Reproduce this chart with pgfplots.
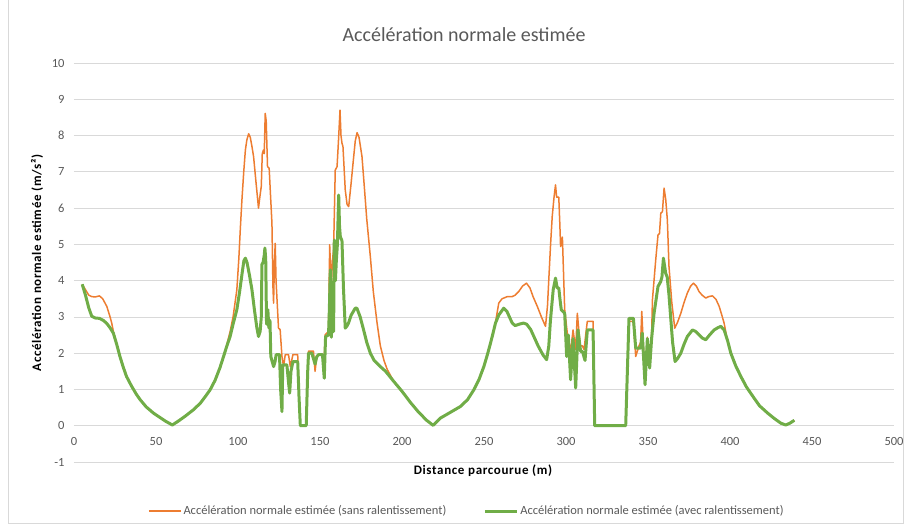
\documentclass[border=0pt]{standalone}
\usepackage{pgfplots}
\pgfplotsset{compat=1.18}
\usepackage{fontspec}
\setmainfont{Carlito}
\definecolor{orangeS}{HTML}{ED7D31}
\definecolor{greenA}{HTML}{70AD47}
\definecolor{gridgray}{HTML}{D9D9D9}
\definecolor{labelgray}{HTML}{595959}
\begin{document}
\begin{tikzpicture}[x=1pt,y=1pt]
\useasboundingbox (-74,-63) rectangle (833,462);
\draw[gridgray, line width=0.8pt] (-66,462) -- (-66,-61) -- (829,-61) -- (829,462);
\begin{axis}[
  at={(0,0)}, anchor=south west, scale only axis,
  width=820pt, height=399pt,
  xmin=0, xmax=500, ymin=-1, ymax=10,
  xtick={0,50,...,500}, ytick={-1,0,...,10},
  ymajorgrids, grid style={draw=gridgray, line width=0.7pt},
  axis line style={draw=none}, major tick length=0pt,
  tick label style={font=\fontsize{12.5}{14}\selectfont, text=labelgray},
  /pgf/number format/assume math mode=true,
  xticklabel style={yshift=28pt},
  yticklabel style={xshift=-6pt},
  legend columns=2,
  legend style={at={(0.479,-0.123)}, anchor=center, draw=none, fill=none,
    font=\fontsize{12.5}{14}\selectfont, text=labelgray,
    /tikz/every even column/.append style={column sep=35pt}},
  legend image code/.code={\draw[#1] (0pt,0pt) -- (32pt,0pt);},
]
\addplot[orangeS, line width=1.5pt, line join=round] coordinates {
(5,3.9)(7,3.75)(9,3.6)(10.8,3.56)(13,3.55)(15.5,3.58)(17.5,3.5)(20,3.29)(22,3.0)(23,2.83)(24,2.6)
(26,2.25)(28,1.91)(30,1.62)(32,1.36)(35,1.1)(38,0.87)(40.3,0.72)(44,0.52)(48.4,0.35)(52,0.24)(56,0.12)(60,0.02)
(64,0.14)(68,0.27)(72.8,0.44)(77,0.62)(80,0.8)(83,0.99)(86,1.25)(89,1.6)(91.2,1.91)(93,2.2)(95.2,2.6)(97,3.0)
(99.3,3.75)(100.5,4.6)(101.5,5.5)(102.4,6.23)(103.5,7.0)(104.5,7.6)(105.4,7.88)(106.5,8.05)(107.5,7.95)(108.5,7.7)
(109.5,7.42)(111,6.7)(112.5,6.0)(113.3,6.3)(114.2,6.6)(114.8,7.5)(115.5,7.6)(116,7.5)(116.6,8.61)(117.2,8.4)
(118,7.14)(119,7.1)(120,6.2)(120.7,5.58)(121.3,3.84)(121.7,3.38)(122.2,4.5)(122.7,5.03)(123.2,4.0)(123.7,3.56)
(124.7,2.69)(125.7,2.65)(126.8,1.91)(127.8,1.63)(128.8,1.96)(130.8,1.96)(131.9,1.63)(133.5,1.96)(136.4,1.96)
(137.2,0.8)(138,0)(141.6,0)(142.5,1.5)(143,2.06)(146,2.06)(147,1.5)(148,1.9)(149.1,1.96)(151.5,1.96)(152.6,1.9)
(153.2,2.51)(155.2,2.6)(155.9,4.99)(156.9,3.8)(157.5,4.5)(158.3,4.88)(159.3,7.05)(160.4,7.14)(161.2,7.8)(162.2,8.7)
(162.8,8.0)(163.4,7.79)(164,7.7)(165.4,6.5)(166.5,6.1)(167.5,6.04)(169,6.7)(170.5,7.4)(171.5,7.85)(172.6,8.08)
(173.8,7.95)(175.6,7.42)(177,6.6)(178.5,5.7)(180.7,4.66)(182.5,3.7)(184.8,2.83)(186.8,2.2)(189,1.8)(191,1.55)
(195,1.22)(200,0.95)(205,0.65)(210,0.38)(215,0.15)(219,0.01)(223.4,0.21)(228,0.33)(235.6,0.53)(240,0.72)(243.8,0.99)
(247,1.28)(249.9,1.63)(252,1.95)(254,2.28)(255.5,2.55)(257,2.85)(259,3.38)(261,3.5)(264.2,3.56)(267.2,3.56)(269,3.6)
(271.2,3.7)(273.5,3.85)(275.9,3.93)(278,3.8)(280,3.55)(282.5,3.29)(285,3.0)(287.5,2.74)(288.7,3.3)(289.6,4.11)
(290.6,5.0)(291.6,5.77)(292.7,6.3)(293.6,6.64)(294.3,6.3)(295.6,6.3)(296.2,5.6)(296.7,4.94)(297.8,5.2)(298.5,4.2)
(299.2,3.2)(300.8,2.55)(302.8,2.05)(304.3,2.64)(305.9,2.1)(306.9,3.1)(308.7,2.2)(310,2.2)(311,2.1)(312,2.5)(313,2.88)
(316.5,2.88)(317.5,0)(336.4,0)(338.4,2.88)(341,2.88)(342.5,1.91)(344.5,2.2)(345.5,2.3)(346.2,3.15)(347.6,1.8)
(348.2,1.3)(349.6,2.44)(351,1.7)(352.2,2.5)(352.7,3.47)(354.7,4.57)(356.1,5.26)(357,5.3)(357.8,5.86)(358.8,5.9)
(359.8,6.55)(360.8,6.24)(361.8,5.67)(362.8,4.39)(364.5,3.4)(366.3,2.69)(368,2.85)(370,3.1)(372,3.4)(374,3.66)
(376,3.85)(377.7,3.93)(379.5,3.85)(381.1,3.7)(383,3.6)(385.2,3.52)(387,3.56)(389.3,3.58)(391.5,3.48)(393.4,3.29)
(395,3.05)(396.4,2.83)(398,2.45)(400.5,2.02)(403.5,1.65)(406.6,1.36)(410,1.07)(414.7,0.76)(418,0.55)(422.9,0.35)
(427,0.2)(431,0.07)(434,0.02)(436.5,0.07)(439.2,0.15)
};
\addlegendentry{Accélération normale estimée (sans ralentissement)}
\addplot[greenA, line width=3pt, line join=round] coordinates {
(5,3.9)(7,3.6)(9,3.25)(10.8,3.02)(13,2.97)(15.5,2.96)(18,2.9)(20,2.82)(22,2.7)(24,2.55)
(26,2.25)(28,1.91)(30,1.62)(32,1.36)(35,1.1)(38,0.87)(40.3,0.72)(44,0.52)(48.4,0.35)(52,0.24)(56,0.12)(60,0.02)
(64,0.14)(68,0.27)(72.8,0.44)(77,0.62)(80,0.8)(83,0.99)(86,1.25)(89,1.6)(91.2,1.91)(93,2.17)(95.2,2.46)(97,2.8)
(99.3,3.2)(101,3.7)(102.5,4.2)(103.6,4.55)(104.5,4.62)(105.5,4.5)(107,4.15)(108.5,3.75)(110,3.2)(111.5,2.7)
(112.5,2.46)(113.5,2.6)(114.2,3.0)(114.6,4.45)(115.3,4.5)(116,4.7)(116.4,4.9)(116.9,4.6)(117.4,2.8)(118.2,3.2)
(118.8,2.7)(119.5,2.9)(120,1.91)(121.7,1.63)(122.5,1.75)(123.3,1.96)(125.3,1.96)(126,1.0)(126.8,0.39)(127.3,1.68)
(129.8,1.68)(130.8,1.2)(131.5,0.9)(132.3,1.5)(133.5,1.77)(136.4,1.77)(137.2,0.8)(138,0)(141.6,0)(142.5,1.5)(143,2.0)
(145,2.0)(146,1.85)(147,1.7)(148,1.9)(149.1,1.96)(151.5,1.96)(152.6,1.31)(153.4,2.46)(155.2,2.5)(155.7,3.2)
(156.3,4.3)(156.9,2.44)(157.9,3.24)(158.3,2.6)(158.7,5.12)(159.4,4.0)(159.9,4.5)(160.6,5.0)(161.4,6.36)(161.9,5.5)
(162.4,5.21)(163.4,5.1)(164.3,3.8)(165.4,2.69)(166.5,2.75)(167.4,2.83)(169,3.05)(171.5,3.24)(172.5,3.24)(174.5,3.0)
(176.6,2.64)(178.5,2.3)(180.7,2.0)(183,1.8)(186.8,1.63)(190,1.5)(195,1.22)(200,0.95)(205,0.65)(210,0.38)(215,0.15)
(219,0.01)(223.4,0.21)(228,0.33)(235.6,0.53)(240,0.72)(243.8,0.99)(247,1.28)(249.9,1.63)(252,1.95)(254,2.28)
(255.5,2.55)(257,2.83)(259,3.05)(262,3.24)(264,3.15)(267.2,2.83)(269,2.76)(271.5,2.8)(274,2.83)(276,2.8)(278.5,2.65)
(280.4,2.46)(283,2.2)(286,1.95)(288.2,1.82)(289.5,2.2)(290.5,2.9)(292.2,3.75)(293.6,4.07)(294.6,3.8)(295.6,3.8)
(296.3,3.5)(297.1,3.2)(299.2,3.1)(300.4,1.91)(301.4,2.5)(302.8,1.27)(304.3,2.4)(305.9,1.04)(307.3,2.64)(308.9,2.05)
(310,2.05)(311.6,1.8)(313,2.64)(316.5,2.64)(317.5,0)(336.4,0)(338.4,2.96)(341.1,2.96)(342.5,2.14)(345.5,2.14)
(346.5,2.55)(348.2,1.13)(349.6,2.4)(351,1.59)(352.2,2.4)(353.7,3.1)(356.1,3.84)(357.7,3.97)(358.5,4.1)(359.4,4.62)
(360.8,4.2)(361.7,4.1)(362.8,3.6)(363.8,3.0)(365,2.3)(366.5,1.77)(368,1.85)(370,2.0)(372,2.25)(374,2.46)(377.1,2.64)
(379,2.6)(381.2,2.5)(383,2.42)(385.2,2.37)(387.5,2.5)(390.3,2.64)(392.5,2.7)(394.4,2.74)(396.4,2.64)(398.5,2.35)
(400.5,2.0)(403.5,1.65)(406.6,1.36)(410,1.07)(414.7,0.76)(418,0.55)(422.9,0.35)(427,0.2)(431,0.07)(434,0.02)
(436.5,0.07)(439.2,0.15)
};
\addlegendentry{Accélération normale estimée (avec ralentissement)}
\end{axis}
\node[font=\fontsize{20}{24}\selectfont, text=labelgray] at (390,427) {Accélération normale estimée};
\node[font=\bfseries\fontsize{13}{15}\selectfont\addfontfeature{LetterSpace=5}] at (409,-9) {Distance parcourue (m)};
\node[font=\bfseries\fontsize{13}{15}\selectfont\addfontfeature{LetterSpace=5}, rotate=90] at (-37,199) {Accélération normale estimée (m/s²)};
\end{tikzpicture}
\end{document}
